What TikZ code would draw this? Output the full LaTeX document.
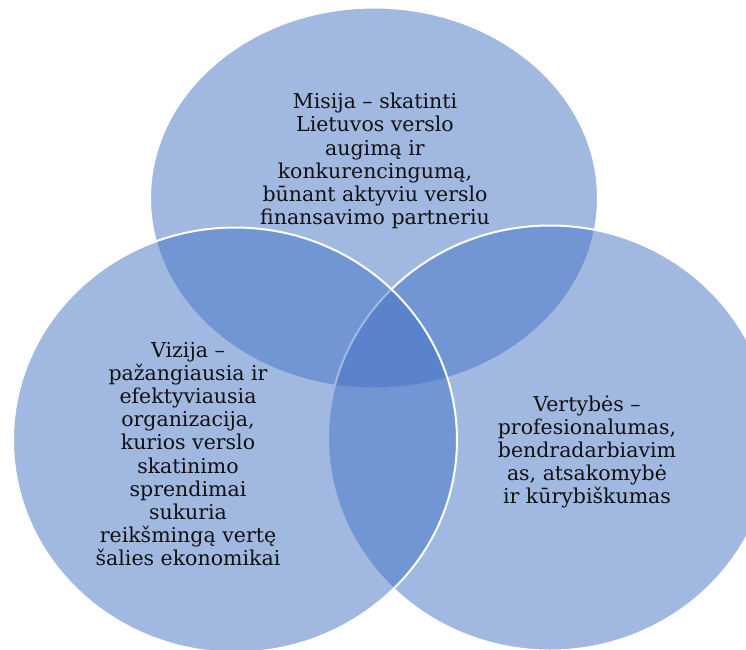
\documentclass[tikz,border=0pt]{standalone}
\usepackage{fontspec}
\setmainfont{DejaVu Serif}
\usetikzlibrary{shapes.geometric}
\definecolor{vennblue}{HTML}{4472C4}
\definecolor{txt}{HTML}{111111}
\tikzset{
  venn/.style={ellipse, draw=white, line width=2pt, fill=vennblue, fill opacity=0.5, draw opacity=1, inner sep=0pt},
  label/.style={align=center, text=txt, font=\fontsize{20.5}{23.2}\selectfont, inner sep=0pt}
}
\begin{document}
\begin{tikzpicture}[x=1pt,y=-1pt]
\useasboundingbox (0,0) rectangle (746,649);
\clip (0,0) rectangle (746,649);
\node[venn, minimum width=448pt, minimum height=381pt] (top) at (374,198) {};
\node[venn, minimum width=444pt, minimum height=425pt] (right) at (550,438) {};
\node[venn, minimum width=444pt, minimum height=425pt] (left) at (235,440) {};
\node[label] (mission) at (375,161) {Misija – skatinti\\Lietuvos verslo\\augimą ir\\konkurencingumą,\\būnant aktyviu verslo\\finansavimo partneriu};
\node[label] (vision) at (188,454) {Vizija –\\pažangiausia ir\\efektyviausia\\organizacija,\\kurios verslo\\skatinimo\\sprendimai\\sukuria\\reikšmingą vertę\\šalies ekonomikai};
\node[label] (values) at (587,452) {Vertybės –\\profesionalumas,\\bendradarbiavim\\as, atsakomybė\\ir kūrybiškumas};
\end{tikzpicture}
\end{document}
